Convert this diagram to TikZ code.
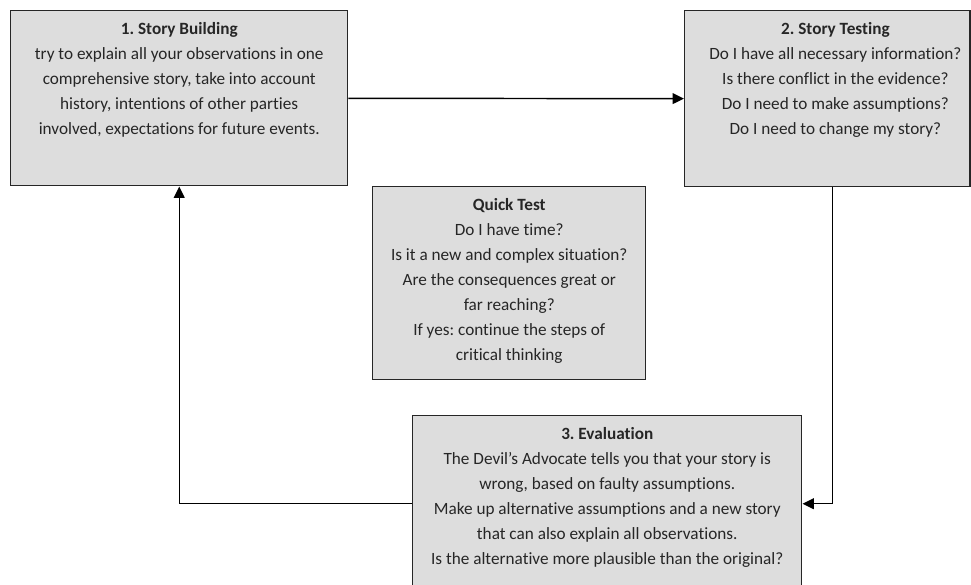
\documentclass[tikz,border=0pt]{standalone}
\usepackage{fontspec}
\setmainfont{Carlito}[Ligatures={TeX,NoCommon}]
\usetikzlibrary{arrows.meta,positioning}
\definecolor{ink}{RGB}{38,38,38}
\definecolor{panel}{RGB}{221,221,221}
\tikzset{
  every picture/.style={color=ink, line width=1.1pt},
  stage/.style={draw=ink, fill=panel, inner sep=0pt, anchor=north west},
  words/.style={align=center, font=\fontsize{12.9}{18.75}\selectfont\frenchspacing, inner sep=0pt, text=ink},
  flow/.style={-{Triangle[length=8.5pt,width=8pt]}, line width=1.1pt, color=black},
}
\begin{document}
\begin{tikzpicture}[x=0.75pt, y=-0.75pt]
  \useasboundingbox (0,0) rectangle (971,585);
  % stages
  \node[stage, minimum width=252.75pt, minimum height=131.25pt] (build) at (10,10) {};
  \node[words, below=8.5pt of build.north] (buildtxt) {\textbf{1. Story Building}\\
    try to explain all your observations in one\\
    comprehensive story, take into account\\
    history, intentions of other parties\\
    involved, expectations for future events.};
  \node[stage, minimum width=214pt, minimum height=132pt] (test) at (684,10) {};
  \node[words, below=8.5pt of test.north, xshift=6pt] (testtxt) {\textbf{2. Story Testing}\\
    Do I have all necessary information?\\
    Is there conflict in the evidence?\\
    Do I need to make assumptions?\\
    Do I need to change my story?};
  \node[stage, minimum width=291.75pt, minimum height=132pt] (eval) at (412,415) {};
  \node[words, below=8.5pt of eval.north] (evaltxt) {\textbf{3. Evaluation}\\
    The Devil's Advocate tells you that your story is\\
    wrong, based on faulty assumptions.\\
    Make up alternative assumptions and a new story\\
    that can also explain all observations.\\
    Is the alternative more plausible than the original?};
  % quick test in the middle
  \node[stage, minimum width=204.75pt, minimum height=144.75pt] (quick) at (372,186) {};
  \node[words, below=8.5pt of quick.north] (quicktxt) {\textbf{Quick Test}\\
    Do I have time?\\
    Is it a new and complex situation?\\
    Are the consequences great or\\
    far reaching?\\
    If yes: continue the steps of\\
    critical thinking};
  % loop
  \draw[flow] (build) -- (test);
  \draw[flow] ([xshift=4pt]test.south) |- (eval.east);
  \draw[flow] (eval.west) -| (build.south);
\end{tikzpicture}
\end{document}
